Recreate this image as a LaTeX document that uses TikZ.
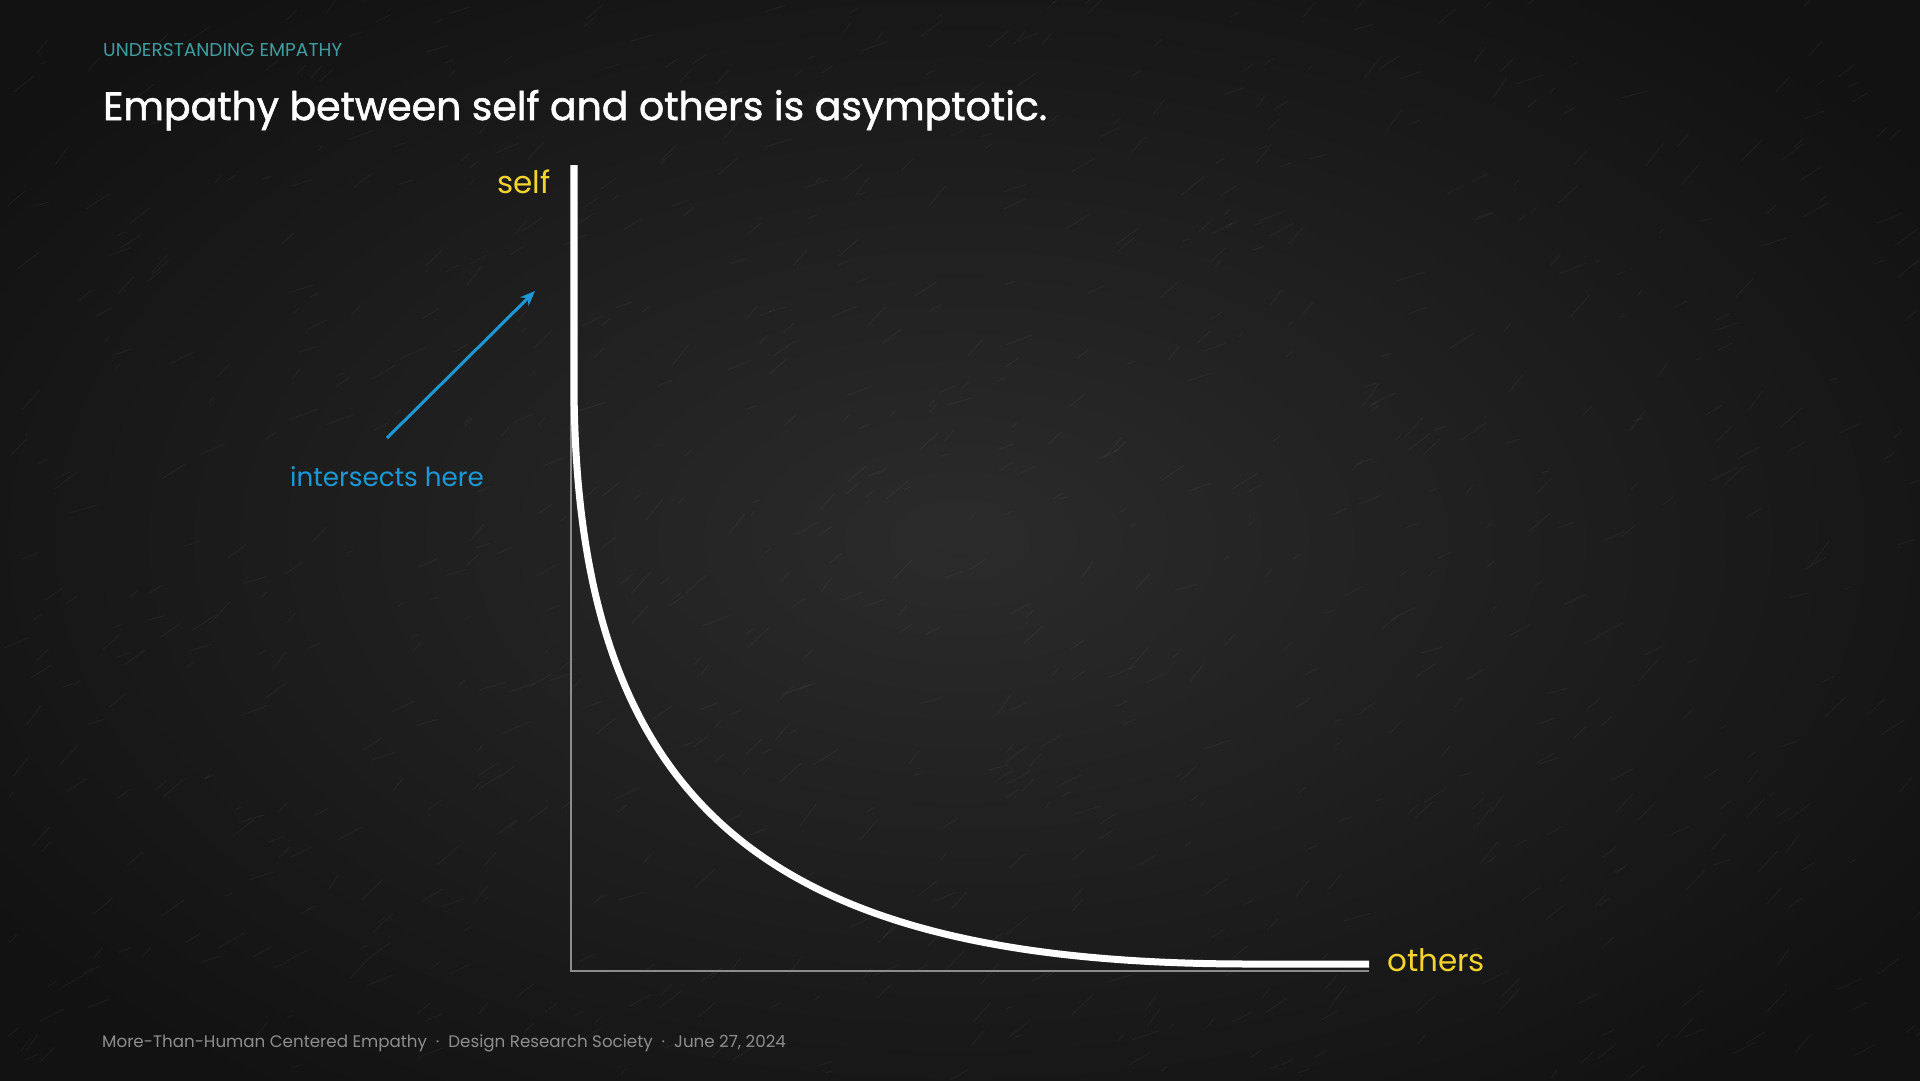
\documentclass[tikz,border=0pt]{standalone}
\usepackage{fontspec}
\setmainfont{Poppins}
\newfontfamily\titlefont[FakeBold=1.4]{Poppins}
\usetikzlibrary{positioning,arrows.meta}

\definecolor{bgmid}{HTML}{2B2B2B}
\definecolor{bgedge}{HTML}{121212}
\definecolor{headteal}{HTML}{3F9DA2}
\definecolor{axisyellow}{HTML}{F3D42E}
\definecolor{pointblue}{HTML}{1B98D5}
\definecolor{axisgray}{HTML}{8C8C8C}
\definecolor{footgray}{HTML}{8E8E8E}

\begin{document}
\begin{tikzpicture}[%
        x=1pt,y=-1pt,
        axisline/.style={draw=axisgray,line width=2.2pt},
        curveline/.style={draw=white,line width=7pt},
        axislabel/.style={text=axisyellow,font=\fontsize{31}{36}\selectfont,inner sep=0pt},
        pointer/.style={draw=pointblue,line width=3pt,-{Stealth[length=15pt,width=12pt]}},
        scratch/.style={draw=white,opacity=0.05,line width=0.8pt}
      ]
      % background
      \useasboundingbox (0,0) rectangle (1920,1080);
      \shade[inner color=bgmid,outer color=bgedge] (-200,-150) rectangle (2120,1230);
      \pgfmathsetseed{7}
      \foreach \i in {1,...,900}{
        \pgfmathsetmacro{\sx}{rnd*1920}
        \pgfmathsetmacro{\sy}{rnd*1080}
        \pgfmathsetmacro{\sa}{-55+rnd*40}
        \pgfmathsetmacro{\sl}{6+rnd*24}
        \draw[scratch] (\sx,\sy) -- ++(\sa:\sl);
      }

      % heading
      \node[anchor=base west,inner sep=0pt,text=headteal,font=\fontsize{18.6}{22}\selectfont] (head) at (103,56) {UNDERSTANDING EMPATHY};
      \node[anchor=base west,inner sep=0pt,text=white,font=\titlefont\fontsize{39.4}{47}\selectfont] (title) at (103,120) {Empathy between self and others is asymptotic.};

      % axes
      \coordinate (origin) at (571,971);
      \coordinate (ytop) at (571,165);
      \coordinate (xend) at (1369,971);
      \draw[axisline] (ytop) -- (origin) -- (xend);

      % curve
      \coordinate (ctop) at (574,165);
      \coordinate (cbend) at (574,380);
      \coordinate (cflat) at (1250,964);
      \coordinate (cend) at (1369,964);
      \draw[curveline] (ctop) -- (cbend) .. controls (574,810) and (770,964) .. (cflat) -- (cend);

      \node[axislabel,anchor=base east] (self) at (551,193) {self};
      \node[axislabel,anchor=base west] (others) at (1387,971) {others};

      % pointer
      \node[anchor=base,inner sep=0pt,text=pointblue,font=\fontsize{26.2}{31}\selectfont] (hint) at (387,486) {intersects here};
      \coordinate (tail) at (387,438);
      \coordinate (tip) at (535,291);
      \draw[pointer] (tail) -- (tip);

      % footer
      \node[anchor=base west,inner sep=0pt,text=footgray,font=\fontsize{16.7}{20}\selectfont] (foot) at (102,1047)
        {More-Than-Human Centered Empathy\ \ ·\ \ Design Research Society\ \ ·\ \ June 27, 2024};
    \end{tikzpicture}
\end{document}
